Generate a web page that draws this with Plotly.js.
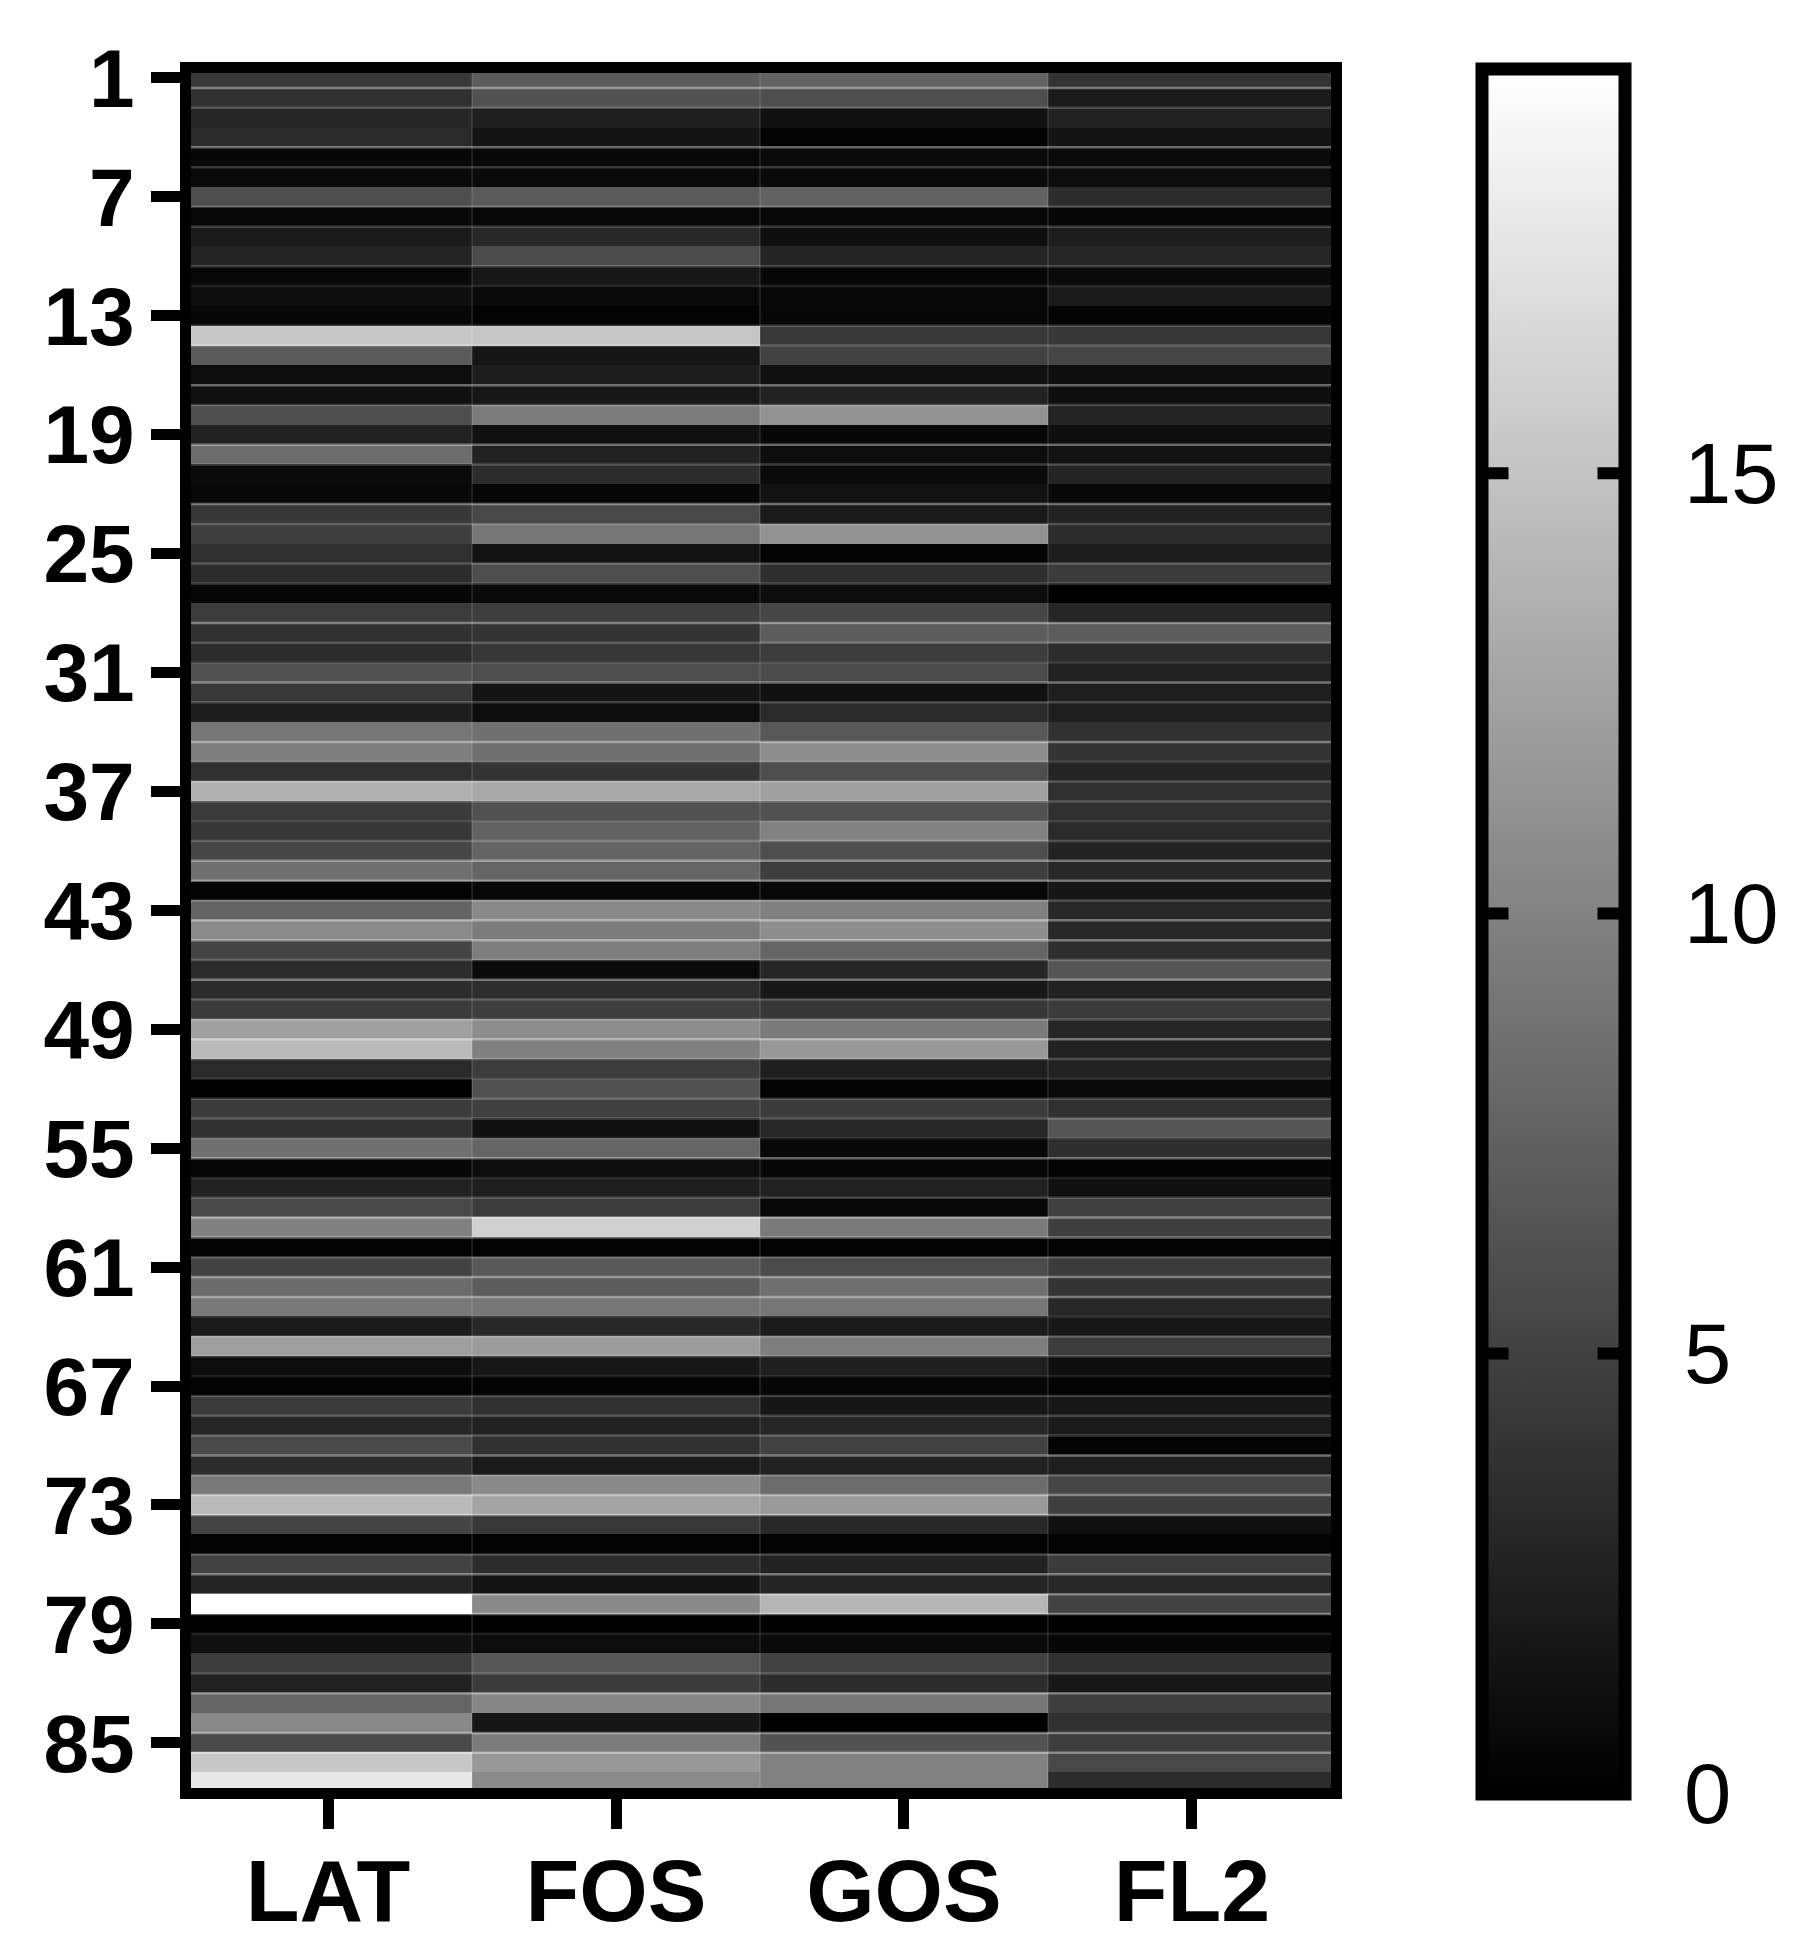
<!DOCTYPE html>
<html><head><meta charset="utf-8">
<script src="https://cdn.plot.ly/plotly-3.0.1.min.js"></script>
<style>html,body{margin:0;padding:0;background:#fff}#c{width:1815px;height:1957px}</style>
</head><body><div id="c"></div>
<script>
const categories = ['LAT','FOS','GOS','FL2'];
const rowTicks = [1,7,13,19,25,31,37,43,49,55,61,67,73,79,85];
const barTicks = [0,5,10,15];
const LAT = [4.3,3.7,2.9,3.2,0.5,0.8,6.0,0.6,2.0,2.8,0.6,1.1,0.5,15.4,6.9,
 0.9,1.2,6.0,2.6,8.3,0.8,0.6,4.2,4.8,3.7,3.4,0.5,4.6,3.8,3.4,
 6.2,4.3,2.2,9.1,9.7,3.7,13.5,4.5,4.2,5.4,8.5,0.3,7.7,10.6,5.2,
 3.4,3.4,4.5,12.3,14.3,3.2,0,4.5,3.8,8.6,0.5,2.5,5.5,9.8,0.3,
 5.1,8.2,9.2,2.0,12.2,0.9,0.2,4.5,2.9,5.7,3.4,9.2,14.3,5.2,0.3,
 5.1,2.8,19.6,0,1.2,4.6,2.6,7.8,10.5,5.7,15.4,17.8];
const FOS = [7.1,6.2,2.3,1.5,0.6,0.8,6.9,0.6,3.1,5.8,1.8,0.8,0.2,15.2,1.7,
 2.2,1.8,9.5,1.2,2.6,3.4,0.5,5.5,9.1,1.4,6.0,0.8,4.8,4.0,4.2,
 6.0,1.5,0.9,8.6,8.5,4.0,12.9,6.2,7.5,7.7,7.8,0.6,10.5,9.5,9.7,
 0.8,3.5,4.8,10.8,9.8,4.6,6.2,4.9,1.2,7.8,0.9,2.3,4.6,16.0,0.2,
 6.8,7.1,9.1,3.1,12.0,1.8,0.2,3.8,2.6,3.8,2.0,10.5,12.6,4.3,0.2,
 3.4,1.5,10.5,0,0.9,6.6,4.5,10.3,1.7,9.5,11.7,10.6];
const GOS = [7.5,6.0,1.2,0.2,0.8,0.8,7.5,0.6,1.1,2.8,0.5,0.6,0.5,4.3,5.1,
 1.2,2.6,11.2,0.5,0.9,0.8,1.4,2.0,11.2,0.3,3.5,0.9,5.4,7.1,4.6,
 5.8,1.2,3.2,6.8,10.9,6.0,12.3,6.2,10.0,6.0,4.8,0.6,9.8,10.9,7.8,
 2.9,1.8,4.2,9.4,11.7,2.3,0.3,4.5,3.1,0.6,0.5,2.5,0.6,9.4,0.2,
 5.8,8.5,9.1,2.0,9.7,2.3,0.5,1.7,2.9,5.1,2.5,8.3,11.8,3.1,0.2,
 2.6,2.8,14.0,0,0.8,5.1,3.4,9.1,0,6.3,10.0,10.0];
const FL2 = [3.9,2.0,2.6,1.5,0.8,0.9,3.4,0.5,2.2,2.9,0.8,2.0,0.3,4.2,5.4,
 1.1,1.1,2.8,1.1,1.4,2.8,0.6,2.6,3.4,2.2,4.5,0,2.9,7.1,3.4,
 2.5,2.3,2.3,3.8,4.0,2.8,3.7,3.7,3.2,2.6,3.1,1.7,3.1,3.1,3.5,
 6.5,2.6,4.5,2.9,2.5,2.5,0.8,3.7,6.5,3.5,0.3,1.2,4.9,4.8,0.2,
 4.5,4.0,3.1,1.8,4.6,1.1,0.2,1.8,2.0,0.3,2.3,5.4,4.8,1.2,0.2,
 4.5,3.1,5.1,0,0.5,3.8,1.8,4.8,3.8,4.8,5.5,3.4];
// Rows whose lower edge shows a pale rule in the reference
const strongEdges = [1,4,16,19,22,28,31,34,40,41,43,44,46,49,55,58,59,61,62,70,72,73,76,77,78,82,84,85];
const midEdges = [2,5,7,8,10,13,14,17,20,23,25,26,29,32,36,37,39,42,45,47,48,50,52,53,57,60,64,65,67,68,69,71,75,81];
const faintEdges = [11,30,35,38,51,54,56,63,66,79];
const columnEdges = [0.5,1.5,2.5];

const rows = LAT.map((_, i) => i + 1);
const z = rows.map((_, i) => [LAT[i], FOS[i], GOS[i], FL2[i]]);
const FONT = 'Liberation Sans, Arial, sans-serif';
const XR = [-0.476, 3.483], YR = [87.28, 0.748];
const zMax = 19.6;
const PL = 191, PR = 1331, PT = 73, PB = 1788;
const PW = PR - PL, PH = PB - PT;
const BAR_TOP = 68.5, BAR_LEN = 1725, BAR_LEFT = 1481.5, BAR_W = 143;

function hRules(edges, op) {
  const x = [], y = [];
  edges.forEach(e => { x.push(XR[0], XR[1], null); y.push(e + 0.5, e + 0.5, null); });
  return {type:'scatter', mode:'lines', x, y, hoverinfo:'skip', showlegend:false,
          line:{color:'rgba(255,255,255,' + op + ')', width:2.5}};
}
const vx = [], vy = [];
columnEdges.forEach(e => { vx.push(e, e, null); vy.push(YR[0], YR[1], null); });

const traces = [
  {type:'heatmap', x:[0,1,2,3], y:rows, z, zmin:0, zmax:zMax,
   colorscale:[[0,'#000000'],[1,'#ffffff']], showscale:true, xgap:0, ygap:0,
   colorbar:{
     lenmode:'pixels', len:BAR_LEN, thicknessmode:'pixels', thickness:BAR_W,
     xref:'paper', yref:'paper', x:(BAR_LEFT - PL) / PW, xanchor:'left', xpad:0,
     y:(PB - BAR_TOP) / PH, yanchor:'top', ypad:0,
     outlinewidth:13, outlinecolor:'#000', borderwidth:0,
     tickmode:'array', tickvals:barTicks, ticktext:barTicks.map(String),
     ticks:'outside', ticklen:36, tickwidth:1, tickcolor:'rgba(0,0,0,0)',
     tickfont:{family:FONT, size:85, color:'#000'}
   }},
  hRules(strongEdges, 0.38), hRules(midEdges, 0.2), hRules(faintEdges, 0.1),
  {type:'scatter', mode:'lines', x:vx, y:vy, hoverinfo:'skip', showlegend:false,
   line:{color:'rgba(255,255,255,0.14)', width:1.5}}
];

// inward ticks on both sides of the colour bar, placed from the bar's tick values
const barMarks = [];
barTicks.filter(v => v > 0).forEach(v => {
  const py = BAR_TOP + BAR_LEN * (1 - v / zMax);
  const frac = (PB - py) / PH;
  [[1486, 24], [1620, -24]].forEach(([edge, off]) => barMarks.push({
    xref:'paper', yref:'paper', x:(edge - PL) / PW, y:frac,
    axref:'pixel', ayref:'pixel', ax:off, ay:0, text:' ',
    showarrow:true, arrowhead:0, arrowwidth:12, arrowcolor:'#000', standoff:0, startstandoff:0,
    font:{size:1}}));
});

Plotly.newPlot('c', traces, {
  width:1815, height:1957, paper_bgcolor:'#fff', plot_bgcolor:'#000',
  margin:{l:PL, r:1815 - PR, t:PT, b:1957 - PB, pad:0},
  showlegend:false, annotations:barMarks,
  xaxis:{range:XR, tickmode:'array', tickvals:[0,1,2,3], ticktext:categories,
    showgrid:false, zeroline:false, showline:true, mirror:true, linewidth:11, linecolor:'#000',
    ticks:'outside', ticklen:30, tickwidth:11, tickcolor:'#000', ticklabelstandoff:-14,
    tickfont:{family:FONT, size:88, color:'#000', weight:700}},
  yaxis:{range:YR, tickmode:'array', tickvals:rowTicks, ticktext:rowTicks.map(String),
    showgrid:false, zeroline:false, showline:true, mirror:true, linewidth:11, linecolor:'#000',
    ticks:'outside', ticklen:29, tickwidth:11, tickcolor:'#000', ticklabelstandoff:0,
    tickfont:{family:FONT, size:82, color:'#000', weight:700}}
}, {displayModeBar:false, staticPlot:true});
</script></body></html>
